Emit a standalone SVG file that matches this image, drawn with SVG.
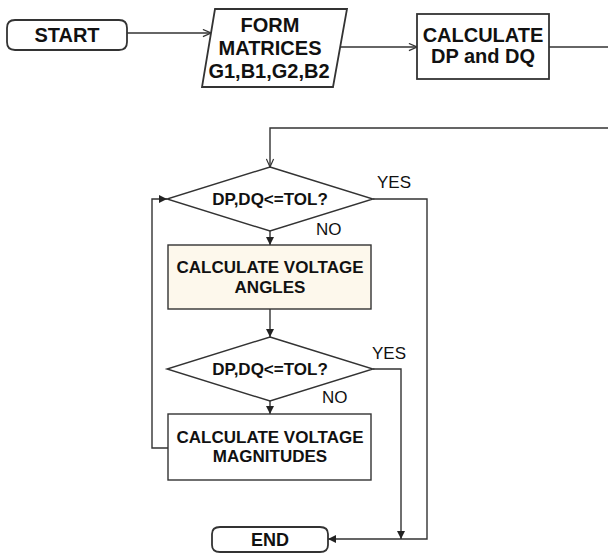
<svg xmlns="http://www.w3.org/2000/svg" width="608" height="553" viewBox="0 0 608 553">
<style>
.shape{fill:#fff;stroke:#333;stroke-width:1.4}
.top{stroke-width:1.8}
.conn{fill:none;stroke:#333;stroke-width:1.4}
.t1{font-family:"Liberation Sans",Arial,sans-serif;font-weight:bold;font-size:20px;fill:#111;text-anchor:middle}
.t2{font-family:"Liberation Sans",Arial,sans-serif;font-weight:bold;font-size:17px;fill:#111;text-anchor:middle}
.lbl{font-family:"Liberation Sans",Arial,sans-serif;font-size:17px;fill:#111}
</style>
<defs>
<marker id="open" viewBox="0 0 10 10" refX="10" refY="5" markerWidth="9" markerHeight="9" markerUnits="userSpaceOnUse" orient="auto"><path d="M1,1 L10,5 L1,9" fill="none" stroke="#333" stroke-width="1.3"/></marker>
<marker id="fill" viewBox="0 0 10 10" refX="10" refY="5" markerWidth="8" markerHeight="8" markerUnits="userSpaceOnUse" orient="auto"><path d="M0,0 L10,5 L0,10 Z" fill="#222"/></marker>
</defs>
<g id="connectors">
<path class="conn top" d="M127,33 H211" marker-end="url(#open)"/>
<path class="conn top" d="M340,47 H417" marker-end="url(#open)"/>
<path class="conn top" d="M549,47 H608"/>
<path class="conn" d="M608,128 H270 V167" marker-end="url(#open)"/>
<path class="conn" d="M270,231 V245" marker-end="url(#fill)"/>
<path class="conn" d="M270,309 V337" marker-end="url(#fill)"/>
<path class="conn" d="M270,401 V414" marker-end="url(#fill)"/>
<path class="conn" d="M168,448 H152 V199 H167" marker-end="url(#fill)"/>
<path class="conn" d="M373,199 H427 V539 H328" marker-end="url(#fill)"/>
<path class="conn" d="M373,369 H401 V539" marker-end="url(#fill)"/>
</g>
<g id="start">
<path class="shape top" d="M15,20 H119 Q127,20 127,28 V42 Q127,50 119,50 H15 Q7,50 7,42 V28 Q7,20 15,20 Z"/>
<text class="t1" x="67" y="42">START</text>
</g>
<g id="form">
<polygon class="shape top" points="215,9 347,9 333,87 202,87"/>
<text class="t1" x="270" y="32">FORM</text>
<text class="t1" x="270" y="55">MATRICES</text>
<text class="t1" x="269" y="78">G1,B1,G2,B2</text>
</g>
<g id="calc">
<rect class="shape top" x="417" y="14" width="132" height="65"/>
<text class="t1" x="483" y="42">CALCULATE</text>
<text class="t1" x="483" y="63">DP and DQ</text>
</g>
<g id="d1">
<polygon class="shape" points="270,167 373,199 270,231 167,199"/>
<text class="t2" x="270" y="205">DP,DQ&lt;=TOL?</text>
<text class="lbl" x="377" y="188">YES</text>
<text class="lbl" x="316" y="235">NO</text>
</g>
<g id="b1">
<rect class="shape" x="168" y="245" width="203" height="64" style="fill:#FDF8EC"/>
<text class="t2" x="270" y="273">CALCULATE VOLTAGE</text>
<text class="t2" x="270" y="293">ANGLES</text>
</g>
<g id="d2">
<polygon class="shape" points="270,337 373,369 270,401 167,369"/>
<text class="t2" x="270" y="375">DP,DQ&lt;=TOL?</text>
<text class="lbl" x="372" y="359">YES</text>
<text class="lbl" x="322" y="403">NO</text>
</g>
<g id="b2">
<rect class="shape" x="168" y="414" width="203" height="66"/>
<text class="t2" x="270" y="443">CALCULATE VOLTAGE</text>
<text class="t2" x="270" y="462">MAGNITUDES</text>
</g>
<g id="end">
<path class="shape top" d="M220,527 H320 Q328,527 328,534 V545 Q328,552 320,552 H220 Q212,552 212,545 V534 Q212,527 220,527 Z"/>
<text class="t2" x="270" y="546" style="font-size:18px">END</text>
</g>
</svg>
